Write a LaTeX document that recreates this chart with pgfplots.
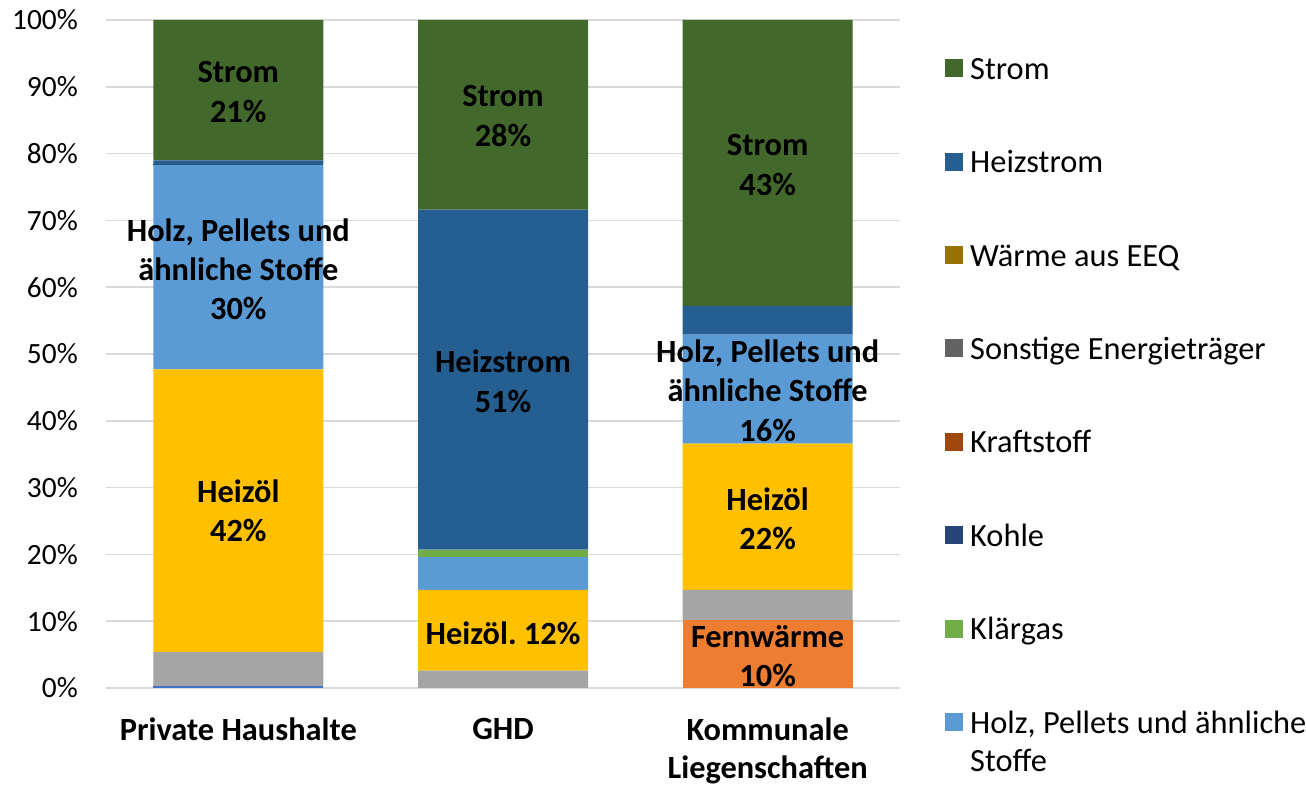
\documentclass[border=0pt]{standalone}
\usepackage{pgfplots}
\pgfplotsset{compat=1.18}
\usepackage{fontspec}
\setmainfont{Carlito}
\frenchspacing
\definecolor{cErdgas}{HTML}{4472C4}
\definecolor{cFern}{HTML}{ED7D31}
\definecolor{cFluess}{HTML}{A5A5A5}
\definecolor{cHeizoel}{HTML}{FFC000}
\definecolor{cHolz}{HTML}{5B9BD5}
\definecolor{cKlaer}{HTML}{70AD47}
\definecolor{cKohle}{HTML}{264478}
\definecolor{cKraft}{HTML}{9E480E}
\definecolor{cSonst}{HTML}{636363}
\definecolor{cWaerme}{HTML}{997300}
\definecolor{cHeizstrom}{HTML}{255E91}
\definecolor{cStrom}{HTML}{43682B}
\definecolor{gridgray}{HTML}{D9D9D9}
\begin{document}
\begin{tikzpicture}
\path[use as bounding box] (0,0) rectangle (1306bp,785bp);
\begin{axis}[
  at={(106bp,97bp)}, anchor=south west, scale only axis,
  width=794bp, height=668bp,
  ybar stacked, bar width=170bp,
  xmin=-0.5, xmax=2.5, ymin=0, ymax=100,
  xtick={0,1,2},
  xticklabels={Private Haushalte, GHD, {Kommunale\\Liegenschaften}},
  xticklabel style={font=\fontsize{32.5}{38}\selectfont\bfseries, align=center, anchor=north, inner sep=0pt, yshift=-30bp},
  ytick={0,10,...,100},
  yticklabel={\pgfmathprintnumber{\tick}\%},
  yticklabel style={font=\fontsize{29.5}{35}\selectfont, inner sep=0pt, xshift=-28bp},
  /pgf/number format/assume math mode=true,
  ymajorgrids, grid style={draw=gridgray, line width=1.5bp},
  axis x line=bottom, axis y line=left,
  x axis line style={draw=gridgray, line width=1.5bp, -},
  y axis line style={draw=none},
  major tick length=0pt,
  legend style={at={(1.0567,0.9475)}, anchor=north west, draw=none, fill=none,
    inner sep=0pt, column sep=7bp, row sep=61.4bp,
    nodes={inner sep=0pt, text height=24bp, text depth=8bp, font=\fontsize{32.5}{39}\selectfont},
    cells={anchor=west}},
  legend cell align=left, reverse legend,
  legend image code/.code={\fill[#1] (0bp,-6bp) rectangle (18bp,12bp);},
]
\addplot[fill=cErdgas, draw=none, forget plot] coordinates {(0,0.3) (1,0) (2,0)};
\addplot[fill=cFern, draw=none, forget plot] coordinates {(0,0) (1,0) (2,10.2)};
\addplot[fill=cFluess, draw=none, forget plot] coordinates {(0,5.1) (1,2.6) (2,4.5)};
\addplot[fill=cHeizoel, draw=none, forget plot] coordinates {(0,42.3) (1,12.1) (2,21.9)};
\addplot[fill=cHolz, draw=none] coordinates {(0,30.6) (1,4.9) (2,16.3)};
\addlegendentry{\begin{tabular}[t]{@{}l@{}}Holz, Pellets und ähnliche\\Stoffe\end{tabular}}
\addplot[fill=cKlaer, draw=none] coordinates {(0,0) (1,1.1) (2,0)};
\addlegendentry{Klärgas}
\addplot[fill=cKohle, draw=none] coordinates {(0,0.1) (1,0) (2,0)};
\addlegendentry{Kohle}
\addplot[fill=cKraft, draw=none] coordinates {(0,0) (1,0) (2,0)};
\addlegendentry{Kraftstoff}
\addplot[fill=cSonst, draw=none] coordinates {(0,0) (1,0) (2,0)};
\addlegendentry{Sonstige Energieträger}
\addplot[fill=cWaerme, draw=none] coordinates {(0,0) (1,0) (2,0)};
\addlegendentry{Wärme aus EEQ}
\addplot[fill=cHeizstrom, draw=none] coordinates {(0,0.6) (1,50.9) (2,4.3)};
\addlegendentry{Heizstrom}
\addplot[fill=cStrom, draw=none] coordinates {(0,21.0) (1,28.4) (2,42.8)};
\addlegendentry{Strom}
\end{axis}
\begin{axis}[
  at={(106bp,97bp)}, anchor=south west, scale only axis,
  width=794bp, height=668bp,
  xmin=-0.5, xmax=2.5, ymin=0, ymax=100,
  hide axis, clip=false,
  nodes near coords, point meta=explicit symbolic,
  every node near coord/.append style={anchor=center, align=center, inner sep=0pt,
    font=\fontsize{32.5}{39.5}\selectfont\bfseries, text=black},
]
\addplot[draw=none, mark=none] coordinates {
  (0,89.2) [Strom\\21\%]
  (0,62.7) [Holz, Pellets und\\ähnliche Stoffe\\30\%]
  (0,26.5) [Heizöl\\42\%]
  (1,85.6) [Strom\\28\%]
  (1,45.9) [Heizstrom\\51\%]
  (1,8.2) [Heizöl. 12\%]
  (2,78.3) [Strom\\43\%]
  (2,44.5) [Holz, Pellets und\\ähnliche Stoffe\\16\%]
  (2,25.3) [Heizöl\\22\%]
  (2,4.8) [Fernwärme\\10\%]
};
\end{axis}
\end{tikzpicture}
\end{document}
